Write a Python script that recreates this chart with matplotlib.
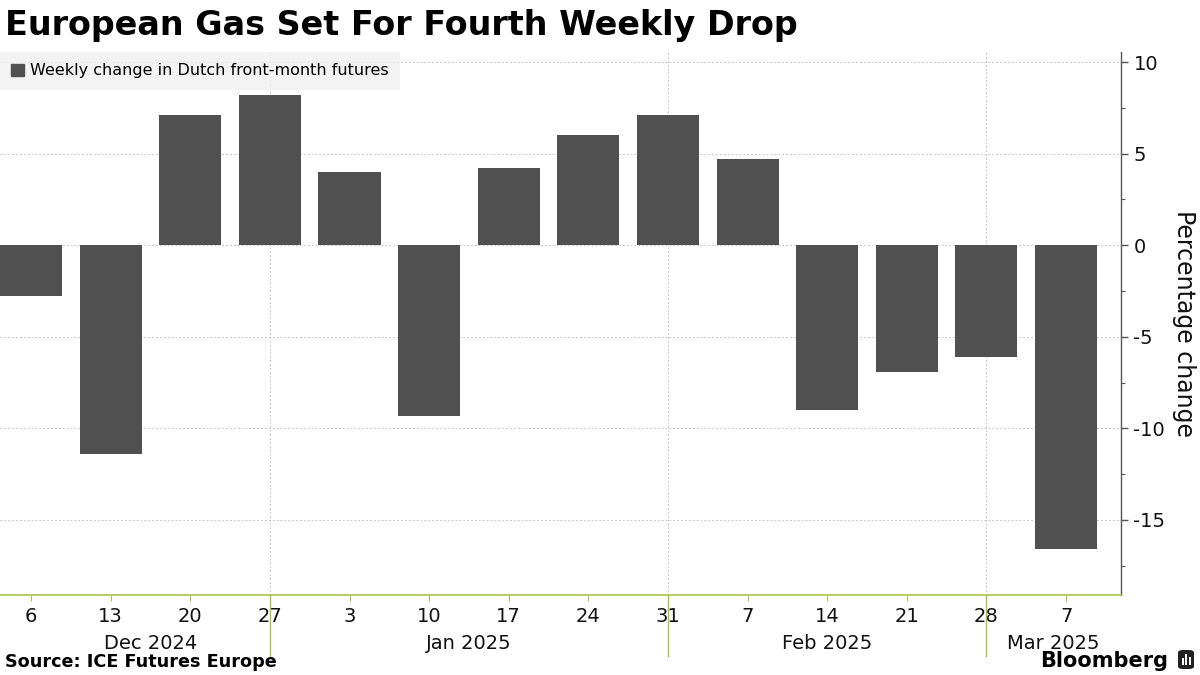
import matplotlib
matplotlib.use("Agg")
import matplotlib.pyplot as plt
from matplotlib.patches import Patch, FancyBboxPatch, Rectangle
from matplotlib.ticker import MultipleLocator

# ---- data ----
day_labels = ["6", "13", "20", "27", "3", "10", "17", "24", "31", "7", "14", "21", "28", "7"]
values = [-2.8, -11.4, 7.1, 8.2, 4.0, -9.3, 4.2, 6.0, 7.1, 4.7, -9.0, -6.9, -6.1, -16.6]
month_labels = ["Dec 2024", "Jan 2025", "Feb 2025", "Mar 2025"]
month_sep_idx = [3, 8, 12]           # separator positions (last week of month)
series_name = "Weekly change in Dutch front-month futures"
title = "European Gas Set For Fourth Weekly Drop"
source = "Source: ICE Futures Europe"
ylabel = "Percentage change"
ytick_vals = [-15, -10, -5, 0, 5, 10]

BAR = "#505050"
GREEN = "#a8c34a"
GRID = "#c8c8c8"

plt.rcParams['font.family'] = ['DejaVu Sans']

fig = plt.figure(figsize=(12, 6.75), dpi=100)
ax = fig.add_axes([0.0, 1 - 595 / 675, 1121 / 1200, (595 - 52) / 675])

x = list(range(len(values)))
ax.bar(x, values, width=0.78, color=BAR, zorder=3)

xmin, xmax = -0.39, 13.69
ax.set_xlim(xmin, xmax)
ax.set_ylim(-19.1, 10.55)

# y axis on right
ax.yaxis.tick_right()
ax.yaxis.set_label_position("right")
ax.yaxis.set_minor_locator(MultipleLocator(2.5))
ax.set_yticks(ytick_vals)
ax.set_yticklabels([str(v) for v in ytick_vals])
ax.tick_params(axis="y", which="major", length=5, width=1, color="#555555",
               labelsize=14, pad=4, labelcolor="#111111")
ax.tick_params(axis="y", which="minor", length=3, width=0.8, color="#555555")
ax.set_ylabel(ylabel, rotation=-90, fontsize=17, labelpad=22, color="#111111")

# spines
for s in ["top", "left"]:
    ax.spines[s].set_visible(False)
ax.spines["right"].set_color("#555555")
ax.spines["right"].set_linewidth(1.0)
ax.spines["bottom"].set_color(GREEN)
ax.spines["bottom"].set_linewidth(1.2)

# grid
ax.yaxis.grid(True, which="major", color=GRID, linestyle=(0, (2, 2)), linewidth=0.7, zorder=0)
for i in month_sep_idx:
    ax.axvline(i, color=GRID, linestyle=(0, (2, 2)), linewidth=0.7, zorder=0)

# x ticks
ax.set_xticks(x)
ax.set_xticklabels(day_labels)
ax.tick_params(axis="x", which="major", length=4, color=GREEN, labelsize=14,
               pad=5, labelcolor="#111111")

# month separator long ticks & month labels
trans = ax.get_xaxis_transform()
for i in month_sep_idx:
    ax.plot([i, i], [0, -0.113], transform=trans, color=GREEN, lw=1.0, clip_on=False)
bounds = [0] + month_sep_idx + [xmax]
for k, lab in enumerate(month_labels):
    cx = (bounds[k] + bounds[k + 1]) / 2
    ax.text(cx, -0.089, lab, transform=trans, ha="center", va="center",
            fontsize=14, color="#111111")

# legend
handles = [Patch(facecolor=BAR, edgecolor=BAR, label=series_name)]
leg = fig.legend(handles=handles, loc="upper left", bbox_to_anchor=(0.0, 1 - 52 / 675),
                 frameon=True, fontsize=11.5, handlelength=0.8, handleheight=0.8,
                 handletextpad=0.35, borderpad=0.72, borderaxespad=0.0, fancybox=False)
leg.get_frame().set_facecolor("#f0f0f0")
leg.get_frame().set_edgecolor("#f0f0f0")
leg.get_frame().set_linewidth(0)

# title and footer
fig.text(5 / 1200, 1 - 25 / 675, title, fontsize=24, fontweight="bold", va="center",
         ha="left", color="#000000")
fig.text(5 / 1200, 1 - 662 / 675, source, fontsize=12.7, fontweight="bold", va="center",
         ha="left", color="#000000")
fig.text(1168 / 1200, 1 - 661 / 675, "Bloomberg", fontsize=15, fontweight="bold",
         va="center", ha="right", color="#000000")

# small Bloomberg logo glyph
W, H = 1200, 675
logo = FancyBboxPatch((1178 / W, 1 - 669 / H), 16 / W, 19 / H,
                      boxstyle="round,pad=0,rounding_size=0.004",
                      transform=fig.transFigure, facecolor="#222222", edgecolor="none")
fig.patches.append(logo)
for bx, bh in [(1181.5, 7), (1185, 11), (1188.5, 8)]:
    fig.patches.append(Rectangle((bx / W, 1 - 665 / H), 2 / W, bh / H,
                                 transform=fig.transFigure, facecolor="white",
                                 edgecolor="none"))

fig.savefig("out.png", dpi=100)
